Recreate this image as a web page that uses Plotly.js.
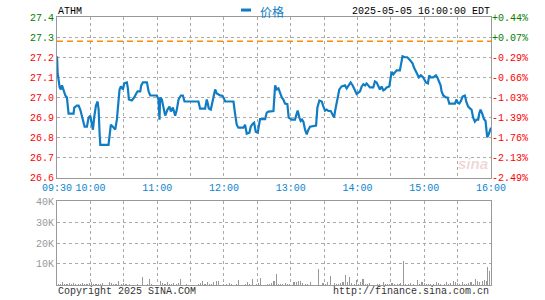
<!DOCTYPE html>
<html><head><meta charset="utf-8">
<script src="https://cdn.plot.ly/plotly-3.0.1.min.js"></script>
<style>html,body{margin:0;padding:0;background:#fff;}#chart{width:545px;height:300px;}</style>
</head><body><div id="chart"></div>
<script>
// ---------- data ----------
const symbol = 'ATHM';
const stampText = '2025-05-05 16:00:00 EDT';
const seriesName = '价格';
const copyrightText = 'Copyright 2025 SINA.COM';
const sourceText = 'http://finance.sina.com.cn';
const prevClose = 27.28;

// minutes after 09:30
const timeTickVals = [0,30,60,90,120,150,180,210,240,270,300,330,360,390];
const timeTickText = ['09:30','10:00','','11:00','','12:00','','13:00','','14:00','','15:00','','16:00'];
const priceTickVals = [26.6,26.7,26.8,26.9,27.0,27.1,27.2,27.3,27.4];
const volTickVals = [10000,20000,30000,40000];
const volTickText = ['10K','20K','30K','40K'];

const priceMinutes = [0,0.6,2.4,3.5,4.5,6.0,7.5,8.9,9.6,10.4,14.9,15.5,17.9,19.4,20.9,22.4,23.9,24.8,26.9,28.4,29.9,31.4,32.3,33.5,35.0,36.5,37.4,38.3,38.9,46.3,47.2,48.4,50.2,52.3,53.8,55.3,56.2,57.4,59.2,60.4,62.8,63.7,64.6,67.3,69.4,71.2,72.4,74.8,75.7,77.2,80.8,82.3,83.8,89.7,91.2,92.1,92.7,94.2,95.7,97.2,99.3,101.1,102.3,104.1,106.2,107.7,109.2,111.3,113.1,114.6,127.1,128.6,133.1,134.6,135.5,136.4,138.2,139.1,140.6,142.1,143.6,146.6,148.1,149.6,151.1,158.6,160.0,161.5,163.0,167.5,169.0,170.5,172.9,174.1,175.9,177.1,178.6,180.4,181.6,182.5,187.0,188.5,190.0,194.5,196.0,197.5,199.0,200.5,202.0,203.4,204.9,207.0,208.2,210.9,213.9,215.4,216.3,217.8,219.0,220.2,221.4,222.9,224.4,225.9,227.4,232.8,234.0,235.8,237.9,239.4,240.9,242.4,243.9,246.0,247.8,249.0,249.8,251.3,252.8,253.7,255.8,258.8,260.3,261.8,263.9,265.7,267.8,269.3,272.3,273.8,275.3,276.8,278.2,279.7,281.2,284.2,285.7,287.2,288.7,290.2,291.7,293.2,294.7,296.2,298.6,299.8,300.7,302.2,303.7,305.2,308.1,309.6,310.5,312.6,314.7,316.5,317.7,319.5,320.7,322.2,323.7,325.2,327.0,329.1,331.5,333.3,334.5,335.7,338.1,340.5,341.7,343.5,344.7,345.6,347.1,349.5,351.0,352.5,357.6,359.1,360.0,361.5,363.0,364.5,366.5,368.0,369.5,371.0,372.5,374.0,375.5,377.0,378.5,379.4,380.6,382.1,383.6,385.1,386.6,388.1,389.6,390];
const priceValues = [27.205,27.12,27.05,27.04,27.06,27.03,27.01,27.0,26.96,26.92,26.92,26.95,26.96,26.96,26.94,26.91,26.87,26.855,26.855,26.90,26.91,26.87,26.84,26.905,26.96,26.98,26.94,26.82,26.765,26.765,26.805,26.865,26.855,26.84,26.89,26.98,27.04,27.055,27.04,27.07,27.075,27.045,26.99,26.985,27.0,27.02,27.03,27.03,27.06,27.075,27.075,27.03,27.01,27.01,26.99,26.89,27.0,26.99,26.94,26.91,26.94,26.955,26.93,26.95,26.91,26.94,26.99,27.01,27.01,26.98,26.98,26.945,26.945,26.99,26.97,26.945,26.94,26.96,27.0,27.04,27.02,27.01,27.01,27.0,26.98,26.98,26.92,26.865,26.85,26.85,26.865,26.82,26.825,26.855,26.87,26.875,26.83,26.825,26.865,26.893,26.893,26.925,26.93,26.933,27.06,27.04,27.045,27.02,27.0,26.99,26.97,26.967,26.9,26.89,26.89,26.92,26.935,26.9,26.883,26.89,26.88,26.84,26.817,26.84,26.855,26.86,26.95,26.985,26.98,26.955,26.935,26.94,26.933,26.933,26.917,26.9,26.93,26.98,27.025,27.04,27.055,27.06,27.045,27.06,27.075,27.06,27.03,27.017,27.03,27.055,27.066,27.06,27.07,27.06,27.05,27.05,27.08,27.075,27.055,27.04,27.055,27.035,27.04,27.05,27.055,27.1,27.127,27.115,27.125,27.135,27.135,27.176,27.205,27.2,27.2,27.19,27.18,27.17,27.15,27.135,27.12,27.1,27.11,27.1,27.075,27.07,27.11,27.1,27.1,27.11,27.1,27.07,27.06,27.03,27.01,27.0,27.0,26.97,26.97,26.99,26.975,26.97,26.983,27.005,27.01,26.975,26.955,26.946,26.94,26.9,26.88,26.89,26.89,26.92,26.94,26.92,26.893,26.883,26.802,26.82,26.847,26.85];

const volMinutes = [1,3,5,7,9,11,13,15,17,19,21,23,25,27,29,31,33,35,37,39,41,47,49,51,53,55,58,60,62,65,72,77,81,83,85,93,95,97,99,101,103,105,107,109,111,116,127,129,131,133,135,137,139,141,143,145,150,152,155,157,161,163,169,171,173,176,179,181,183,189,191,193,195,197,199,201,203,205,207,209,213,215,217,219,221,223,225,228,235,239,241,243,246,249,251,253,255,257,259,261,263,265,267,269,271,273,275,277,279,281,288,290,293,295,297,299,301,303,306,308,309,311,313,316,318,320,324,326,328,330,332,334,336,338,341,343,345,348,350,352,354,356,358,360,362,364,366,368,370,372,374,376,378,380,382,384,386,387,389];
const volValues = [300,500,1400,600,500,1000,600,1000,500,600,600,1000,500,600,800,1400,600,500,500,500,1000,1400,1000,600,600,1900,600,1100,500,600,500,3800,500,2900,500,1900,800,500,1400,600,500,1000,600,1000,2900,500,600,1000,1900,600,1400,600,600,1600,1900,1900,600,500,1000,600,500,2200,600,1400,600,2700,600,1000,3300,600,600,1000,1900,5200,500,500,500,1000,500,500,1400,1400,1900,1900,1000,500,500,1400,7600,1000,600,1400,4300,1000,500,600,1000,1400,4800,1400,3800,1000,600,2400,600,1400,2900,600,600,1000,500,500,1400,600,500,600,1000,600,600,600,1000,11400,500,600,1000,600,2400,600,1400,1000,500,500,500,500,1400,1000,600,500,1400,500,1000,1900,1400,1000,500,1400,500,600,1000,1400,600,2900,1900,1400,1900,2400,1900,8600,6700];

// ---------- styling ----------
const MONO = '"Liberation Mono", "DejaVu Sans Mono", monospace';
const GRID = '#aaaaaa';
const FRAME = '#999999';
const UP = '#008000', DOWN = '#ff0000';
const LINE = '#0f7cc4';
const TIMECOL = '#0a84d0';

const priceTickText = priceTickVals.map(v => v >= prevClose ? '<span style="color:' + UP + '">' + v.toFixed(1) + '</span>' : v.toFixed(1));
const pctTickText = priceTickVals.map(v => {
  const p = (v - prevClose) / prevClose * 100;
  const s = (p >= 0 ? '+' : '-') + Math.abs(p).toFixed(2) + '%';
  return p >= 0 ? '<span style="color:' + UP + '">' + s + '</span>' : s;
});

const traces = [
  { type:'scatter', mode:'lines', x:[0,390], y:[prevClose,prevClose], xaxis:'x', yaxis:'y3',
    line:{color:'#ff8c00', width:1.5, dash:'6px,4px'}, hoverinfo:'skip' },
  { type:'scatter', mode:'lines', name:seriesName, x:priceMinutes, y:priceValues, xaxis:'x', yaxis:'y',
    line:{color:LINE, width:2.2} },
  { type:'bar', x:volMinutes, y:volValues, xaxis:'x2', yaxis:'y2', width:1,
    marker:{color:'#999999', line:{width:0}} }
];

const gridAxis = { showgrid:true, gridcolor:GRID, griddash:'dot', gridwidth:1, showline:true, linecolor:FRAME,
  linewidth:1, mirror:true, ticks:'', zeroline:false, fixedrange:true };

const layout = {
  width:545, height:300,
  margin:{l:57, r:54, t:17, b:15, pad:0},
  paper_bgcolor:'#fff', plot_bgcolor:'#fff',
  showlegend:false, bargap:0,
  font:{family:MONO, size:10, color:'#000'},
  xaxis: Object.assign({}, gridAxis, { domain:[0,1], anchor:'y', range:[0,390], tickmode:'array',
    tickvals:timeTickVals, ticktext:timeTickText, tickfont:{family:MONO, size:10, color:TIMECOL} }),
  yaxis: Object.assign({}, gridAxis, { domain:[0.3993,1], anchor:'x', range:[26.6,27.4], tickmode:'array',
    tickvals:priceTickVals, ticktext:priceTickText, tickfont:{family:MONO, size:10, color:DOWN} }),
  yaxis3: { overlaying:'y', side:'right', anchor:'x', range:[26.6,27.4], tickmode:'array',
    tickvals:priceTickVals, ticktext:pctTickText, tickfont:{family:MONO, size:10, color:DOWN},
    showgrid:false, zeroline:false, ticks:'', showline:false, fixedrange:true },
  xaxis2: Object.assign({}, gridAxis, { domain:[0,1], anchor:'y2', range:[0,390], tickmode:'array',
    tickvals:timeTickVals, showticklabels:false }),
  yaxis2: Object.assign({}, gridAxis, { domain:[0,0.3134], anchor:'x2', range:[0,40000], tickmode:'array',
    tickvals:volTickVals, ticktext:volTickText, tickfont:{family:MONO, size:10, color:'#999999'} }),
  shapes: [
    { type:'line', xref:'paper', yref:'paper', x0:0.424, x1:0.447, y0:1.026, y1:1.026,
      line:{color:LINE, width:3} }
  ],
  annotations: [
    { text:symbol, xref:'paper', yref:'paper', x:-0.002, y:1.021, xanchor:'left', yanchor:'middle',
      showarrow:false, font:{family:MONO, size:10, color:'#000'} },
    { text:stampText, xref:'paper', yref:'paper', x:1.0023, y:1.021, xanchor:'right', yanchor:'middle',
      showarrow:false, font:{family:MONO, size:10, color:'#000'} },
    { text:seriesName, xref:'paper', yref:'paper', x:0.463, y:1.021, xanchor:'left', yanchor:'middle',
      showarrow:false, font:{family:'"Noto Sans CJK SC", sans-serif', size:12, color:LINE} },
    { text:copyrightText, xref:'paper', yref:'paper', x:-0.002, y:-0.026, xanchor:'left', yanchor:'middle',
      showarrow:false, font:{family:MONO, size:10, color:'#333'} },
    { text:sourceText, xref:'paper', yref:'paper', x:1.0, y:-0.026, xanchor:'right', yanchor:'middle',
      showarrow:false, font:{family:MONO, size:10, color:'#333'} },
    { text:'<b><i>sina</i></b>', xref:'paper', yref:'paper', x:0.958, y:0.455, xanchor:'center', yanchor:'middle',
      showarrow:false, font:{family:'Arial, Liberation Sans, sans-serif', size:15, color:'rgba(210,140,140,0.35)'} }
  ]
};

Plotly.newPlot('chart', traces, layout, {displayModeBar:false, staticPlot:true});
</script>
</body></html>
